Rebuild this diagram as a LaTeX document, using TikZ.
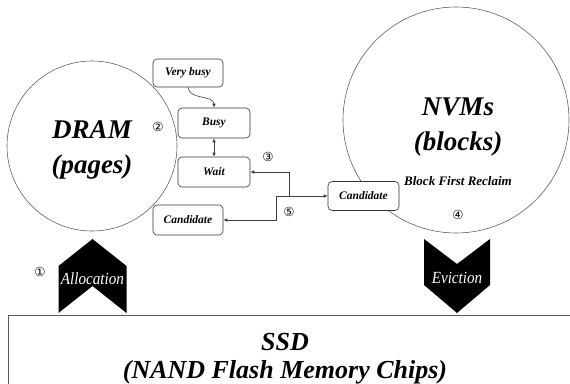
\documentclass[tikz,border=0pt]{standalone}
\usepackage{fontspec}
\setmainfont{Liberation Serif}
\newfontfamily\circfont{DejaVu Sans}
\usetikzlibrary{arrows.meta}
\tikzset{
  pool/.style={
    circle,
    draw=gray!75!black,
    line width=0.6pt,
    align=center
  },
  state/.style={
    draw=black!80,
    rounded corners=4pt,
    minimum width=71pt,
    minimum height=29pt,
    font=\fontsize{11.5}{13}\selectfont\bfseries\itshape,
    line width=0.6pt
  },
  bigtext/.style={font=\fontsize{27}{35}\selectfont\bfseries\itshape, align=center},
  num/.style={font=\fontsize{12.5}{14}\selectfont\circfont, inner sep=0pt},
  chev/.style={fill=black, draw=none},
  chevtext/.style={font=\fontsize{17}{18}\selectfont\itshape, text=white, xscale=0.89},
  flow/.style={-{Latex[length=4pt,width=3.5pt]}, line width=0.6pt, draw=black!75},
  flowboth/.style={{Latex[length=4pt,width=3.5pt]}-{Latex[length=4pt,width=3.5pt]}, line width=0.6pt, draw=black!75}
}

\begin{document}
\begin{tikzpicture}[x=1pt,y=-1pt]
  \useasboundingbox (0,0) rectangle (570,383);

  % memory pools
  \node[pool, minimum size=170pt] (dram) at (92,146) {};
  \node[bigtext] (dramlbl) at (92,150) {DRAM\\(pages)};
  \node[pool, minimum size=226pt] (nvm) at (456,120) {};
  \node[bigtext] (nvmlbl) at (458,127) {NVMs\\(blocks)};
  \node[font=\fontsize{13}{15}\selectfont\bfseries\itshape] (bfr) at (458,181) {Block First Reclaim};

  % page states
  \node[state, fill=white, minimum width=70pt, minimum height=28pt] (vbusy) at (188,73) {Very busy};
  \node[state, fill=white, minimum width=72pt, minimum height=30pt] (busy) at (214,123) {Busy};
  \node[state, fill=white, minimum width=72pt, minimum height=30pt] (wait) at (214,172) {Wait};
  \node[state, fill=white, minimum width=70pt, minimum height=30pt] (candl) at (188,220) {Candidate};
  \node[state, fill=white] (candr) at (363.5,196) {Candidate};

  \coordinate (bend) at (276,196);
  \coordinate (split) at (289,196);

  \draw[flow] (vbusy.south -| 188,0) to[out=-85,in=90] (busy.north);
  \draw[flowboth] (busy) -- (wait);
  \draw[flowboth] (candl.east) -| (bend) -- (candr.west);
  \draw[flow] (split) |- (wait.east);

  % step numbers
  \node[num] (n1) at (40,272) {①};
  \node[num] (n2) at (158,127) {②};
  \node[num] (n3) at (268,157) {③};
  \node[num] (n4) at (458,215) {④};
  \node[num] (n5) at (289,212) {⑤};

  % allocation / eviction
  \fill[chev] (58.5,266) -- (92.5,239) -- (126.5,266) -- (126.5,313) -- (92.5,286) -- (58.5,313) -- cycle;
  \node[chevtext] (alloc) at (92.5,279) {Allocation};
  \fill[chev] (424,239) -- (457,264) -- (490,239) -- (490,285) -- (457,313) -- (424,285) -- cycle;
  \node[chevtext] (evict) at (457,278) {Eviction};

  % flash storage
  \draw[draw=gray!70!black, line width=0.9pt] (8,390) -- (8,315) -- (575,315);
  \node[bigtext, font=\fontsize{26}{28}\selectfont\bfseries\itshape] (ssd) at (285,359) {SSD\\(NAND Flash Memory Chips)};
\end{tikzpicture}
\end{document}
